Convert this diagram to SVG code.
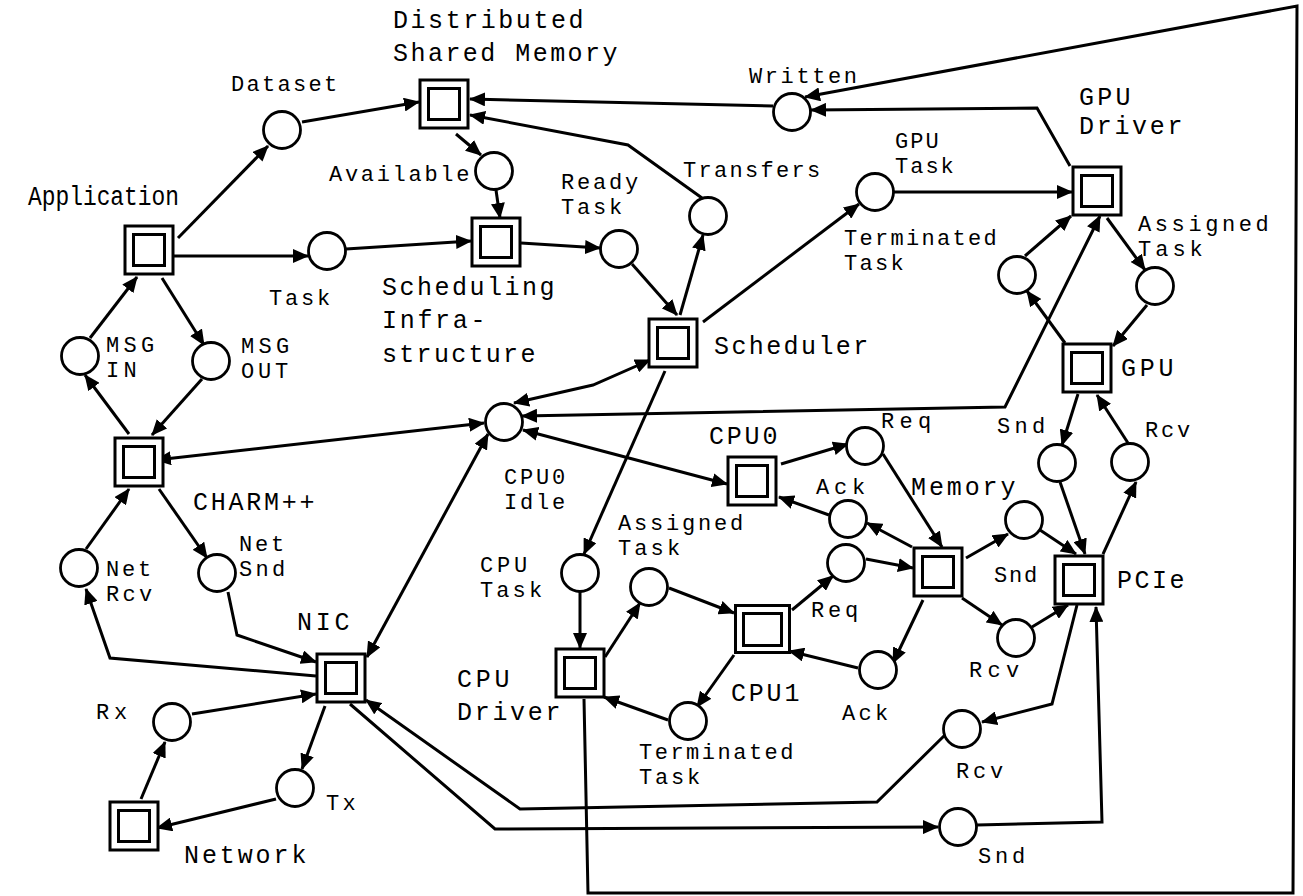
<svg xmlns="http://www.w3.org/2000/svg" width="1303" height="896" viewBox="0 0 1303 896">
<defs>
<marker id="ah" viewBox="0 0 16 14" markerWidth="16" markerHeight="14" markerUnits="userSpaceOnUse" refX="15" refY="7" orient="auto-start-reverse">
<path d="M0,0 L16,7 L0,14 z" fill="#000"/>
</marker>
<style>
.to{fill:#fff;stroke:#000;stroke-width:3}
.ti{fill:#fff;stroke:#000;stroke-width:3}
.pl{fill:#fff;stroke:#000;stroke-width:2.8}
.c{fill:none;stroke:#000;stroke-width:3;stroke-linejoin:miter}
.e{marker-end:url(#ah)}
.b{marker-start:url(#ah);marker-end:url(#ah)}
text{font-family:"Liberation Mono","DejaVu Sans Mono",monospace;fill:#000}
.p{font-size:22px;letter-spacing:2.8px}
.n{font-size:25px;letter-spacing:2.8px}
</style>
</defs>
<rect width="1303" height="896" fill="#fff"/>
<g id="connectors">
<path class="c e" d="M178,238 L268,146"/>
<path class="c e" d="M174,256 L308,256"/>
<path class="c e" d="M302,122 L419,102"/>
<path class="c e" d="M346,249 L471,241"/>
<path class="c e" d="M456,134 L481,155"/>
<path class="c e" d="M496,190 L500,218"/>
<path class="c e" d="M521,243 L600,248"/>
<path class="c e" d="M632,264 L677,315"/>
<path class="c e" d="M680,315 L703,235"/>
<path class="c e" d="M702,198 L628,145 L470,115"/>
<path class="c e" d="M773,106 L470,99"/>
<path class="c e" d="M1070,166 L1037,108 L811,110"/>
<path class="c e" d="M584,699 L588,893 L1293,893 L1297,6 L805,97"/>
<path class="c e" d="M894,192 L1072,192"/>
<path class="c e" d="M703,322 L859,204"/>
<path class="c e" d="M1107,218 L1145,270"/>
<path class="c e" d="M1147,305 L1113,346"/>
<path class="c e" d="M1065,343 L1027,291"/>
<path class="c e" d="M1025,256 L1071,216"/>
<path class="c b" d="M522,416 L1005,407 L1100,216"/>
<path class="c b" d="M514,403 L593,385 L650,360"/>
<path class="c b" d="M156,460 L484,423"/>
<path class="c b" d="M523,430 L727,484"/>
<path class="c b" d="M488,434 L367,657"/>
<path class="c e" d="M665,371 L584,554"/>
<path class="c e" d="M580,592 L580,648"/>
<path class="c e" d="M605,657 L640,603"/>
<path class="c e" d="M669,588 L734,613"/>
<path class="c e" d="M792,610 L833,576"/>
<path class="c e" d="M866,559 L913,568"/>
<path class="c e" d="M781,464 L848,444"/>
<path class="c e" d="M883,454 L942,547"/>
<path class="c e" d="M912,547 L867,523"/>
<path class="c e" d="M829,515 L779,497"/>
<path class="c e" d="M923,600 L893,663"/>
<path class="c e" d="M858,668 L789,651"/>
<path class="c e" d="M734,655 L697,707"/>
<path class="c e" d="M668,720 L604,697"/>
<path class="c e" d="M966,558 L1008,534"/>
<path class="c e" d="M1040,530 L1076,554"/>
<path class="c e" d="M962,598 L1002,625"/>
<path class="c e" d="M1032,627 L1068,605"/>
<path class="c e" d="M1078,394 L1062,445"/>
<path class="c e" d="M1060,482 L1085,554"/>
<path class="c e" d="M1103,554 L1136,482"/>
<path class="c e" d="M1128,443 L1097,395"/>
<path class="c e" d="M1077,605 L1052,704 L982,722"/>
<path class="c e" d="M977,825 L1102,822 L1096,607"/>
<path class="c e" d="M947,733 L877,802 L520,809 L366,700"/>
<path class="c e" d="M350,704 L495,829 L938,827"/>
<path class="c e" d="M316,676 L110,658 L86,589"/>
<path class="c e" d="M228,592 L237,635 L316,662"/>
<path class="c e" d="M192,714 L316,694"/>
<path class="c e" d="M325,706 L302,769"/>
<path class="c e" d="M276,799 L157,828"/>
<path class="c e" d="M141,799 L165,742"/>
<path class="c e" d="M129,434 L85,375"/>
<path class="c e" d="M90,338 L137,277"/>
<path class="c e" d="M162,278 L204,345"/>
<path class="c e" d="M202,379 L152,435"/>
<path class="c e" d="M159,489 L207,558"/>
<path class="c e" d="M86,549 L129,489"/>
</g>
<!-- transitions -->
<g id="application"><rect class="to" x="125" y="226" width="48" height="48"/><rect class="ti" x="133.5" y="234.5" width="31" height="31"/><text x="28" y="205" style="font-size:27px" textLength="151" lengthAdjust="spacingAndGlyphs">Application</text></g>
<g id="dsm"><rect class="to" x="420" y="80" width="48" height="48"/><rect class="ti" x="428.5" y="88.5" width="31" height="31"/><text class="n"><tspan x="393" y="28" style="letter-spacing:2.55px">Distributed</tspan><tspan x="393" y="61" style="letter-spacing:2.46px">Shared Memory</tspan></text></g>
<g id="sched-infra"><rect class="to" x="472" y="218" width="48" height="48"/><rect class="ti" x="480.5" y="226.5" width="31" height="31"/><text class="n"><tspan x="382" y="295" style="letter-spacing:2.5px">Scheduling</tspan><tspan x="382" y="328" style="letter-spacing:2.7px">Infra-</tspan><tspan x="382" y="362" style="letter-spacing:2.3px">structure</tspan></text></g>
<g id="scheduler"><rect class="to" x="649" y="319" width="48" height="48"/><rect class="ti" x="657.5" y="327.5" width="31" height="31"/><text class="n" x="714" y="354" style="letter-spacing:2.4px">Scheduler</text></g>
<g id="gpu-driver"><rect class="to" x="1073" y="167" width="48" height="48"/><rect class="ti" x="1081.5" y="175.5" width="31" height="31"/><text class="n"><tspan x="1079" y="105" style="letter-spacing:3.2px">GPU</tspan><tspan x="1079" y="134" style="letter-spacing:2.7px">Driver</tspan></text></g>
<g id="gpu"><rect class="to" x="1063" y="344" width="48" height="48"/><rect class="ti" x="1071.5" y="352.5" width="31" height="31"/><text class="n" x="1121" y="376" style="letter-spacing:3.7px">GPU</text></g>
<g id="cpu0"><rect class="to" x="728" y="457" width="48" height="48"/><rect class="ti" x="736.5" y="465.5" width="31" height="31"/><text class="n" x="709" y="444">CPU0</text></g>
<g id="memory"><rect class="to" x="914" y="548" width="48" height="48"/><rect class="ti" x="922.5" y="556.5" width="31" height="31"/><text class="n" x="911" y="495" style="letter-spacing:2.9px">Memory</text></g>
<g id="pcie"><rect class="to" x="1055" y="556" width="48" height="48"/><rect class="ti" x="1063.5" y="564.5" width="31" height="31"/><text class="n" x="1117" y="588" style="letter-spacing:2.5px">PCIe</text></g>
<g id="cpu1"><rect class="to" x="735.5" y="605.5" width="54" height="47"/><rect class="ti" x="743.5" y="613.5" width="38" height="32"/><text class="n" x="731" y="701">CPU1</text></g>
<g id="cpu-driver"><rect class="to" x="556" y="649" width="48" height="48"/><rect class="ti" x="564.5" y="657.5" width="31" height="31"/><text class="n"><tspan x="457" y="687" style="letter-spacing:3.7px">CPU</tspan><tspan x="457" y="720" style="letter-spacing:2.7px">Driver</tspan></text></g>
<g id="charm"><rect class="to" x="115" y="438" width="48" height="48"/><rect class="ti" x="123.5" y="446.5" width="31" height="31"/><text class="n" x="193" y="510" style="letter-spacing:2.75px">CHARM++</text></g>
<g id="nic"><rect class="to" x="317" y="654" width="48" height="48"/><rect class="ti" x="325.5" y="662.5" width="31" height="31"/><text class="n" x="297" y="630" style="letter-spacing:3.7px">NIC</text></g>
<g id="network"><rect class="to" x="110" y="802" width="48" height="48"/><rect class="ti" x="118.5" y="810.5" width="31" height="31"/><text class="n" x="184" y="863" style="letter-spacing:2.9px">Network</text></g>
<!-- places -->
<g id="p-dataset"><circle class="pl" cx="282" cy="130" r="18.5"/><text class="p" x="231" y="91" style="letter-spacing:2.3px">Dataset</text></g>
<g id="p-task"><circle class="pl" cx="327" cy="251" r="18.5"/><text class="p" x="269" y="305">Task</text></g>
<g id="p-available"><circle class="pl" cx="494" cy="171" r="18.5"/><text class="p" x="329" y="181" style="letter-spacing:2.7px">Available</text></g>
<g id="p-ready"><circle class="pl" cx="619" cy="249" r="18.5"/><text class="p"><tspan x="561" y="188.5">Ready</tspan><tspan x="561" y="213.5">Task</tspan></text></g>
<g id="p-transfers"><circle class="pl" cx="708" cy="216" r="18.5"/><text class="p" x="683" y="177" style="letter-spacing:2.3px">Transfers</text></g>
<g id="p-written"><circle class="pl" cx="792" cy="112" r="18.5"/><text class="p" x="749" y="83" style="letter-spacing:2.6px">Written</text></g>
<g id="p-gpu-task"><circle class="pl" cx="875" cy="192" r="18.5"/><text class="p" style="letter-spacing:2px"><tspan x="895" y="147.5">GPU</tspan><tspan x="895" y="172.5">Task</tspan></text></g>
<g id="p-gpu-term"><circle class="pl" cx="1017" cy="275" r="18.5"/><text class="p" style="letter-spacing:2.3px"><tspan x="844" y="244.5">Terminated</tspan><tspan x="844" y="269.5">Task</tspan></text></g>
<g id="p-gpu-assigned"><circle class="pl" cx="1155" cy="286" r="18.5"/><text class="p"><tspan x="1138" y="231" style="letter-spacing:3.6px">Assigned</tspan><tspan x="1138" y="256" style="letter-spacing:4px">Task</tspan></text></g>
<g id="p-msg-in"><circle class="pl" cx="80" cy="356" r="18.5"/><text class="p" style="letter-spacing:4.3px"><tspan x="106" y="352">MSG</tspan><tspan x="106" y="377">IN</tspan></text></g>
<g id="p-msg-out"><circle class="pl" cx="211" cy="361" r="18.5"/><text class="p"><tspan x="241" y="353" style="letter-spacing:4.3px">MSG</tspan><tspan x="241" y="378" style="letter-spacing:3.8px">OUT</tspan></text></g>
<g id="p-net-rcv"><circle class="pl" cx="79" cy="568" r="18.5"/><text class="p"><tspan x="106" y="575.5">Net</tspan><tspan x="106" y="600.5" style="letter-spacing:3.3px">Rcv</tspan></text></g>
<g id="p-net-snd"><circle class="pl" cx="217" cy="573" r="18.5"/><text class="p"><tspan x="239" y="551">Net</tspan><tspan x="239" y="576" style="letter-spacing:3.3px">Snd</tspan></text></g>
<g id="p-cpu0-idle"><circle class="pl" cx="504" cy="422" r="18.5"/><text class="p"><tspan x="504" y="483.5">CPU0</tspan><tspan x="504" y="508.5">Idle</tspan></text></g>
<g id="p-cpu-task"><circle class="pl" cx="580" cy="573" r="18.5"/><text class="p"><tspan x="480" y="571.5" style="letter-spacing:3.8px">CPU</tspan><tspan x="480" y="596.5" style="letter-spacing:3.1px">Task</tspan></text></g>
<g id="p-cpu-assigned"><circle class="pl" cx="649" cy="587" r="18.5"/><text class="p"><tspan x="618" y="529.5">Assigned</tspan><tspan x="618" y="554.5" style="letter-spacing:3.1px">Task</tspan></text></g>
<g id="p-req0"><circle class="pl" cx="865" cy="446" r="18.5"/><text class="p" x="881" y="428" style="letter-spacing:5.3px">Req</text></g>
<g id="p-ack0"><circle class="pl" cx="848" cy="519" r="18.5"/><text class="p" x="816" y="494" style="letter-spacing:4.8px">Ack</text></g>
<g id="p-req1"><circle class="pl" cx="846" cy="563" r="18.5"/><text class="p" x="811" y="617" style="letter-spacing:3.8px">Req</text></g>
<g id="p-ack1"><circle class="pl" cx="878" cy="670" r="18.5"/><text class="p" x="842" y="720" style="letter-spacing:3.3px">Ack</text></g>
<g id="p-mem-snd"><circle class="pl" cx="1024" cy="520" r="18.5"/><text class="p" x="994" y="582" style="letter-spacing:1.8px">Snd</text></g>
<g id="p-mem-rcv"><circle class="pl" cx="1016" cy="638" r="18.5"/><text class="p" x="969" y="677" style="letter-spacing:5.3px">Rcv</text></g>
<g id="p-gpu-snd"><circle class="pl" cx="1057" cy="463" r="18.5"/><text class="p" x="997" y="433" style="letter-spacing:4.3px">Snd</text></g>
<g id="p-gpu-rcv"><circle class="pl" cx="1130" cy="462" r="18.5"/><text class="p" x="1145" y="437">Rcv</text></g>
<g id="p-rx"><circle class="pl" cx="172" cy="722" r="18.5"/><text class="p" x="96" y="719" style="letter-spacing:4.8px">Rx</text></g>
<g id="p-tx"><circle class="pl" cx="295" cy="788" r="18.5"/><text class="p" x="326" y="810" style="letter-spacing:3.3px">Tx</text></g>
<g id="p-cpu-term"><circle class="pl" cx="688" cy="721" r="18.5"/><text class="p"><tspan x="639" y="758.5" style="letter-spacing:2.5px">Terminated</tspan><tspan x="639" y="783.5">Task</tspan></text></g>
<g id="p-nic-rcv"><circle class="pl" cx="962" cy="729" r="18.5"/><text class="p" x="956" y="778" style="letter-spacing:3.8px">Rcv</text></g>
<g id="p-nic-snd"><circle class="pl" cx="958" cy="827" r="18.5"/><text class="p" x="978" y="863" style="letter-spacing:3.8px">Snd</text></g>
</svg>
